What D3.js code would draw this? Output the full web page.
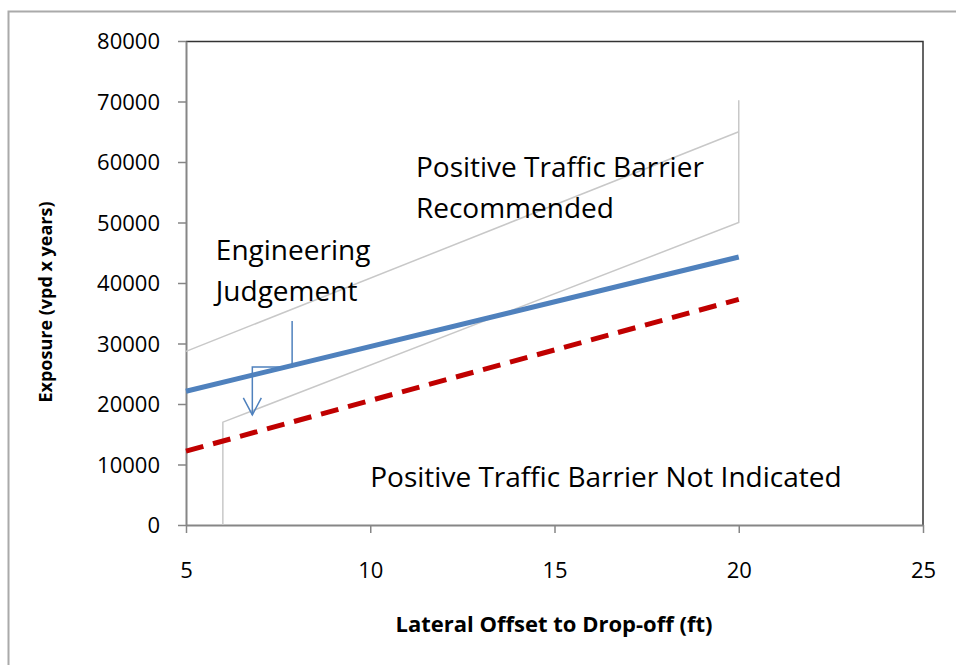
<!DOCTYPE html>
<html>
<head>
<meta charset="utf-8">
<script src="https://cdn.jsdelivr.net/npm/d3@7"></script>
<style>
  body { margin: 0; background: #fff; }
  text { font-family: "Open Sans", "DejaVu Sans", sans-serif; }
</style>
</head>
<body>
<div class="canvas"></div>
<script>
// data
const xTicks = [5, 10, 15, 20, 25];
const yTicks = [0, 10000, 20000, 30000, 40000, 50000, 60000, 70000, 80000];

const judgementLine = [[5, 22100], [20, 44300]];   // blue solid
const notIndicatedLine = [[5, 12200], [20, 37300]]; // red dashed
const upperBound = [[5, 28700], [20, 65000]];       // grey
const lowerBound = [[6, 0], [6, 17000], [20, 50000], [20, 70200]]; // grey
const arrowPath = [[7.88, 33700], [7.88, 26100], [6.8, 26100], [6.8, 18200]];

// label anchors: left edge, baseline
const labels = [
  { text: "Positive Traffic Barrier", x: 11.24, y: 57500 },
  { text: "Recommended", x: 11.24, y: 50800 },
  { text: "Engineering", x: 5.81, y: 43800 },
  { text: "Judgement", x: 5.81, y: 37100 },
  { text: "Positive Traffic Barrier Not Indicated", x: 10.0, y: 6300 }
];

const margin = { top: 41, right: 33, bottom: 140, left: 186 };
const width = 956, height = 665;
const graphWidth = width - margin.left - margin.right;
const graphHeight = height - margin.top - margin.bottom;

const svg = d3.select(".canvas")
  .append("svg")
  .attr("width", width)
  .attr("height", height);

// outer frame
svg.append("rect")
  .attr("x", 8.5).attr("y", 11.5)
  .attr("width", 960).attr("height", 670)
  .attr("fill", "none")
  .attr("stroke", "#aaa")
  .attr("stroke-width", 2);

const graph = svg.append("g")
  .attr("transform", `translate(${margin.left}, ${margin.top})`);

const x = d3.scaleLinear().domain([5, 25]).range([0, graphWidth]);
const y = d3.scaleLinear().domain([0, 80000]).range([graphHeight, 0]);

// plot frame top / right
graph.append("path")
  .attr("d", `M0,0.5H${graphWidth}V${graphHeight}`)
  .attr("fill", "none")
  .attr("stroke", "#333")
  .attr("stroke-width", 1.5);

// axes
const xAxis = d3.axisBottom(x).tickValues(xTicks).tickSize(8).tickSizeOuter(0);
const yAxis = d3.axisLeft(y).tickValues(yTicks).tickSize(8).tickSizeOuter(0)
  .tickFormat(d => d);

const xAxisGroup = graph.append("g")
  .attr("transform", `translate(0,${graphHeight})`)
  .call(xAxis);
const yAxisGroup = graph.append("g").call(yAxis);

[xAxisGroup, yAxisGroup].forEach(g => {
  g.select(".domain").attr("stroke", "#868686").attr("stroke-width", 2);
  g.selectAll(".tick line").attr("stroke", "#868686").attr("stroke-width", 1.5);
  g.selectAll(".tick text")
    .attr("fill", "#000")
    .style("font-family", "'Open Sans', sans-serif")
    .style("font-size", "22px");
});
xAxisGroup.selectAll(".tick text").attr("dy", "0").attr("y", 53);
yAxisGroup.selectAll(".tick text").attr("x", -26).attr("dy", "0.35em");

const line = d3.line()
  .x(d => x(d[0]))
  .y(d => y(d[1]));

// grey boundary lines
[upperBound, lowerBound].forEach(data => {
  graph.append("path")
    .datum(data)
    .attr("fill", "none")
    .attr("stroke", "#c8c8c8")
    .attr("stroke-width", 1.5)
    .attr("d", line);
});

// red dashed
graph.append("path")
  .datum(notIndicatedLine)
  .attr("fill", "none")
  .attr("stroke", "#c00000")
  .attr("stroke-width", 5)
  .attr("stroke-dasharray", "18,10")
  .attr("d", line);

// blue solid
graph.append("path")
  .datum(judgementLine)
  .attr("fill", "none")
  .attr("stroke", "#4f81bd")
  .attr("stroke-width", 5)
  .attr("d", line);

// arrow
svg.append("defs").append("marker")
  .attr("id", "arrow")
  .attr("viewBox", "0 0 20 20")
  .attr("refX", 10).attr("refY", 18)
  .attr("markerWidth", 20).attr("markerHeight", 20)
  .attr("markerUnits", "userSpaceOnUse")
  .attr("orient", "0")
  .append("path")
    .attr("d", "M1,1L10,18L19,1")
    .attr("fill", "none")
    .attr("stroke", "#4f81bd")
    .attr("stroke-width", 1.5);

graph.append("path")
  .datum(arrowPath)
  .attr("fill", "none")
  .attr("stroke", "#4f81bd")
  .attr("stroke-width", 1.5)
  .attr("marker-end", "url(#arrow)")
  .attr("d", line);

// annotations
graph.selectAll(".label")
  .data(labels)
  .enter()
  .append("text")
    .attr("class", "label")
    .attr("x", d => x(d.x))
    .attr("y", d => y(d.y))
    .style("font-size", "28px")
    .attr("fill", "#000")
    .text(d => d.text);

// axis titles
svg.append("text")
  .attr("x", 554)
  .attr("y", 632)
  .attr("text-anchor", "middle")
  .style("font-size", "22px")
  .style("font-weight", "bold")
  .text("Lateral Offset to Drop-off (ft)");

svg.append("text")
  .attr("transform", `translate(52, 302) rotate(-90)`)
  .attr("text-anchor", "middle")
  .style("font-size", "18px")
  .style("font-weight", "bold")
  .text("Exposure (vpd x years)");
</script>
</body>
</html>
